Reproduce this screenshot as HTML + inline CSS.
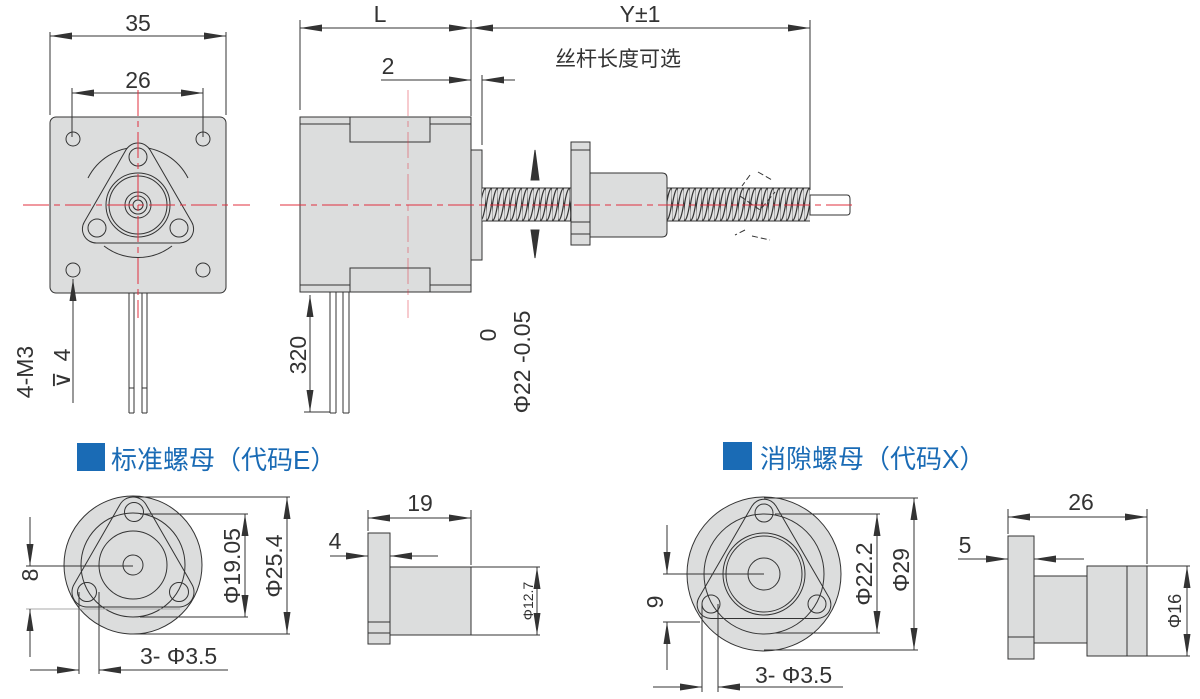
<!DOCTYPE html>
<html><head><meta charset="utf-8"><style>
html,body{margin:0;padding:0;background:#fff;}
svg{display:block}
text{font-family:"Liberation Sans","Noto Sans CJK SC",sans-serif;fill:#333}
</style></head><body>
<svg width="1200" height="699" viewBox="0 0 1200 699" xmlns="http://www.w3.org/2000/svg">
<defs>
<marker id="ar" markerUnits="userSpaceOnUse" markerWidth="24" markerHeight="8" refX="22" refY="3.5" orient="auto-start-reverse"><path d="M0,0 L22,3.5 L0,7 z" fill="#333"/></marker>
<pattern id="thr" patternUnits="userSpaceOnUse" x="0" y="188" width="6" height="33">
<rect width="6" height="33" fill="#e0e0e0"/>
<ellipse cx="3" cy="16.5" rx="2.5" ry="16" transform="rotate(8 3 16.5)" fill="none" stroke="#333" stroke-width="1.2"/>
</pattern>
</defs>
<g stroke="#333" stroke-width="1" fill="none">
<!-- ===== front view ===== -->
<rect x="50" y="117" width="176" height="176" rx="6" fill="#dcdddd"/>
<circle cx="73" cy="139" r="7"/><circle cx="203" cy="139" r="7"/><circle cx="73" cy="270" r="7"/><circle cx="203" cy="270" r="7"/>
<path d="M88,178 A56,56 0 0 1 188,178 M104,246 A56,56 0 0 0 172,246"/>
<path d="M150.1,150 A14,14 0 0 0 125.9,150 L84.3,222 A14,14 0 0 0 96.4,243 L179.6,243 A14,14 0 0 0 191.7,222 Z" fill="#dcdddd"/>
<circle cx="138" cy="157" r="9"/><circle cx="97" cy="228" r="9"/><circle cx="179" cy="228" r="9"/>
<circle cx="138" cy="205" r="32"/><circle cx="138" cy="205" r="29"/>
<circle cx="138" cy="205" r="13"/><circle cx="138" cy="205" r="9"/><circle cx="138" cy="205" r="5"/>
<path d="M129,293 V413 M134,293 V413 M142,293 V413 M147,293 V413 M129,388 H134 M142,388 H147 M129,413 H134 M142,413 H147"/>
<path d="M50,32 V115 M226,32 V115 M72,88 V137 M203,88 V137"/>
<line x1="50" y1="36" x2="226" y2="36" marker-start="url(#ar)" marker-end="url(#ar)"/>
<line x1="72" y1="93" x2="203" y2="93" marker-start="url(#ar)" marker-end="url(#ar)"/>
<line x1="73" y1="403" x2="73" y2="279" marker-end="url(#ar)"/>
<!-- ===== side view ===== -->
<rect x="300" y="117" width="171" height="175" fill="#dcdddd"/>
<path d="M300,124 H350 M430,124 H471 M300,285 H350 M430,285 H471"/>
<rect x="350" y="117" width="80" height="25"/>
<rect x="350" y="268" width="80" height="24"/>
<rect x="471" y="150" width="11" height="110" fill="#dcdddd"/>
<path d="M330,292 V413 M336,292 V413 M343,292 V413 M349,292 V413 M330,413 H336 M343,413 H349"/>
<path d="M300,20 V110 M471,20 V116 M482,75 V145 M810,20 V190"/>
<line x1="300" y1="28" x2="471" y2="28" marker-start="url(#ar)" marker-end="url(#ar)"/>
<line x1="471" y1="28" x2="810" y2="28" marker-start="url(#ar)" marker-end="url(#ar)"/>
<line x1="381" y1="80" x2="471" y2="80" marker-end="url(#ar)"/>
<line x1="515" y1="80" x2="482" y2="80" marker-end="url(#ar)"/>
<line x1="310" y1="295" x2="310" y2="412" marker-start="url(#ar)" marker-end="url(#ar)"/>
<path d="M304,412 H330"/>
<rect x="482" y="188" width="89" height="33" fill="url(#thr)" stroke="none"/>
<rect x="666" y="188" width="144" height="33" fill="url(#thr)" stroke="none"/>
<path d="M482,188 H571 M482,221 H571 M666,188 H810 M666,221 H810"/>
<rect x="571" y="142" width="19" height="103" fill="#dcdddd"/>
<path d="M571,150 H590 M571,222 H590 M571,234 H590"/>
<path d="M590,173 H662 Q667,173 667,178 V232 Q667,237 662,237 H590 Z" fill="#dcdddd"/>
<path d="M810,195 H847 Q850,195 850,199 V212 Q850,215 847,215 H810 Z" fill="#fff"/>
<path d="M750,175 L742,186 M758,172 L772,180 M740,196 L760,210 L775,192 M745,230 L735,235 M752,236 L770,240" stroke-dasharray="6 3"/>
<path d="M535,150 L531,180 H539 Z M531,230 H539 L535,258 Z" fill="#333"/>
<!-- ===== E nut ===== -->
<circle cx="133" cy="565" r="69" fill="#dcdddd"/>
<path d="M146,504.5 A15,15 0 0 0 120,504.5 L74,584.5 A15,15 0 0 0 87,607 L179,607 A15,15 0 0 0 192,584.5 Z"/>
<circle cx="133" cy="565" r="52"/>
<circle cx="133" cy="565" r="34"/>
<circle cx="133" cy="565" r="10"/>
<circle cx="134" cy="512" r="9.5"/><circle cx="87" cy="592" r="9.5"/><circle cx="179" cy="592" r="9.5"/>
<path d="M140,514 H248 M140,617 H248 M133,497 H290 M133,634 H290"/>
<line x1="245" y1="514" x2="245" y2="617" marker-start="url(#ar)" marker-end="url(#ar)"/>
<line x1="287" y1="497" x2="287" y2="634" marker-start="url(#ar)" marker-end="url(#ar)"/>
<path d="M26,566 H133"/>
<path d="M26,609 H180" stroke="#aaa"/>
<line x1="30" y1="517" x2="30" y2="566" marker-end="url(#ar)"/>
<line x1="30" y1="657" x2="30" y2="609" marker-end="url(#ar)"/>
<path d="M79,592 V674 M99,592 V674"/>
<line x1="30" y1="670" x2="79" y2="670" marker-end="url(#ar)"/>
<line x1="228" y1="670" x2="99" y2="670" marker-end="url(#ar)"/>
<rect x="368" y="533" width="22" height="111" fill="#dcdddd"/>
<path d="M368,622 H390 M368,633 H390"/>
<rect x="390" y="567" width="81" height="68" fill="#dcdddd"/>
<path d="M368,510 V531 M471,510 V565 M471,567 H540 M471,635 H540"/>
<line x1="368" y1="518" x2="471" y2="518" marker-start="url(#ar)" marker-end="url(#ar)"/>
<line x1="330" y1="556" x2="368" y2="556" marker-end="url(#ar)"/>
<line x1="438" y1="556" x2="390" y2="556" marker-end="url(#ar)"/>
<line x1="537" y1="567" x2="537" y2="635" marker-start="url(#ar)" marker-end="url(#ar)"/>
<!-- ===== X nut ===== -->
<circle cx="764" cy="574" r="77" fill="#dcdddd"/>
<path d="M776,506 A14,14 0 0 0 752,506 L699,597.5 A14,14 0 0 0 711,618.5 L817,618.5 A14,14 0 0 0 829,597.5 Z"/>
<circle cx="764" cy="574" r="60"/>
<circle cx="764" cy="574" r="41"/><circle cx="764" cy="574" r="38"/>
<circle cx="764" cy="574" r="16"/>
<circle cx="764" cy="513" r="9"/><circle cx="711" cy="604" r="9"/><circle cx="817" cy="604" r="9"/>
<path d="M775,514 H880 M775,633 H880 M764,498 H918 M764,650 H918"/>
<line x1="877" y1="514" x2="877" y2="633" marker-start="url(#ar)" marker-end="url(#ar)"/>
<line x1="914" y1="498" x2="914" y2="650" marker-start="url(#ar)" marker-end="url(#ar)"/>
<path d="M663,574 H764 M663,622 H700"/>
<line x1="667" y1="525" x2="667" y2="574" marker-end="url(#ar)"/>
<line x1="667" y1="670" x2="667" y2="622" marker-end="url(#ar)"/>
<path d="M702,604 V692 M718,604 V692"/>
<line x1="653" y1="687" x2="702" y2="687" marker-end="url(#ar)"/>
<line x1="843" y1="687" x2="718" y2="687" marker-end="url(#ar)"/>
<rect x="1008" y="536" width="26" height="123" fill="#dcdddd"/>
<path d="M1008,637 H1034"/>
<rect x="1034" y="576" width="53" height="67" fill="#dcdddd"/>
<rect x="1087" y="566" width="60" height="90" fill="#dcdddd"/>
<path d="M1127,566 V656 M1008,509 V534 M1147,509 V564 M1147,566 H1190 M1147,656 H1190"/>
<line x1="1008" y1="517" x2="1147" y2="517" marker-start="url(#ar)" marker-end="url(#ar)"/>
<line x1="958" y1="559" x2="1008" y2="559" marker-end="url(#ar)"/>
<line x1="1084" y1="559" x2="1034" y2="559" marker-end="url(#ar)"/>
<line x1="1187" y1="566" x2="1187" y2="656" marker-start="url(#ar)" marker-end="url(#ar)"/>
</g>
<g stroke="#e0303f" stroke-width="1" fill="none">
<path d="M23,205 H250 M280,205 H855" stroke-dasharray="26 5 6 5"/>
<path d="M138,90 V318" stroke-dasharray="26 5 6 5"/>
<path d="M408,90 V318" stroke-dasharray="26 5 6 5" stroke-opacity="0.5"/>
</g>
<g font-size="23">
<text x="138" y="31" text-anchor="middle">35</text>
<text x="138" y="88" text-anchor="middle">26</text>
<text x="380" y="22" text-anchor="middle">L</text>
<text x="388" y="74" text-anchor="middle">2</text>
<text x="640" y="22" text-anchor="middle">Y±1</text>
<text x="555" y="66" font-size="21">丝杆长度可选</text>
<text transform="translate(33,372) rotate(-90)" text-anchor="middle">4-M3</text>
<text transform="translate(70,355) rotate(-90)" text-anchor="middle">4</text>
<text transform="translate(70,380) rotate(-90)" text-anchor="middle">⊽</text>
<text transform="translate(306,355) rotate(-90)" text-anchor="middle">320</text>
<text transform="translate(496,335) rotate(-90)" text-anchor="middle">0</text>
<text transform="translate(530,362) rotate(-90)" text-anchor="middle">Φ22 -0.05</text>
<text x="420" y="511" text-anchor="middle">19</text>
<text x="335" y="549" text-anchor="middle">4</text>
<text x="140" y="664">3- Φ3.5</text>
<text transform="translate(38,575) rotate(-90)" text-anchor="middle">8</text>
<text transform="translate(240,566) rotate(-90)" text-anchor="middle">Φ19.05</text>
<text transform="translate(282,566) rotate(-90)" text-anchor="middle">Φ25.4</text>
<text transform="translate(533,601) rotate(-90)" text-anchor="middle" font-size="14">Φ12.7</text>
<text x="1081" y="510" text-anchor="middle">26</text>
<text x="965" y="553" text-anchor="middle">5</text>
<text x="755" y="683">3- Φ3.5</text>
<text transform="translate(663,602) rotate(-90)" text-anchor="middle">9</text>
<text transform="translate(872,574) rotate(-90)" text-anchor="middle">Φ22.2</text>
<text transform="translate(909,570) rotate(-90)" text-anchor="middle">Φ29</text>
<text transform="translate(1181,611) rotate(-90)" text-anchor="middle" font-size="18">Φ16</text>
</g>
<rect x="77" y="443" width="28" height="28" fill="#1a6bb5"/>
<text x="111" y="469" font-size="26" style="fill:#1a6bb5">标准螺母（代码E）</text>
<rect x="723" y="442" width="29" height="28" fill="#1a6bb5"/>
<text x="760" y="468" font-size="26" style="fill:#1a6bb5">消隙螺母（代码X）</text>
</svg>
</body></html>
